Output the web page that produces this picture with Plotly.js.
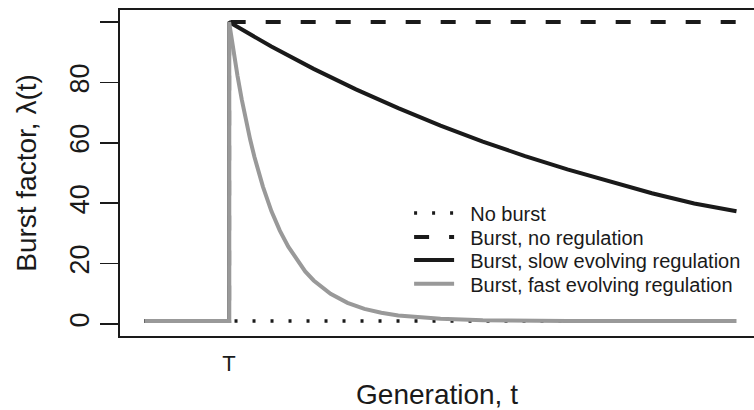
<!DOCTYPE html>
<html>
<head>
<meta charset="utf-8">
<script src="https://cdn.plot.ly/plotly-3.0.1.min.js"></script>
<style>
html, body { margin: 0; padding: 0; background: #fff; overflow: hidden; }
#chart { width: 754px; height: 410px; }
</style>
</head>
<body>
<div id="chart"></div>
<script>
// Generation values and burst factors
var burstGen = 100; // T
var genNoBurst = [0, 700];
var noBurst = [1, 1];

var genNoReg = [0, 100, 100, 700];
var noRegulation = [1, 1, 100, 100];

var genSlow = [0, 100, 100, 150, 200, 250, 300, 350, 400, 450, 500, 550, 600, 650, 700];
var slowRegulation = [1, 1, 100, 91.9, 84.5, 77.7, 71.5, 65.7, 60.4, 55.6, 51.2, 47.1, 43.3, 39.9, 37.3];

var genFast = [0, 100, 100, 105, 110, 115, 120, 125, 130, 140, 150, 160, 170, 180, 190, 200, 220, 240, 260, 280, 300, 350, 400, 500, 600, 700];
var fastRegulation = [1, 1, 100, 90.6, 82.1, 74.3, 67.4, 61.0, 55.3, 45.5, 37.4, 30.9, 25.6, 21.2, 17.4, 14.4, 10.0, 7.0, 5.0, 3.7, 2.8, 1.7, 1.2, 1.0, 1.0, 1.0];

var seriesNames = ['No burst', 'Burst, no regulation', 'Burst, slow evolving regulation', 'Burst, fast evolving regulation'];

var yTickVals = [0, 20, 40, 60, 80, 100];
var yTickText = ['0', '20', '40', '60', '80', ''];
var xTickVals = [burstGen];
var xTickText = ['T'];

var ink = '#1a1a1a';
var grey = '#999999';
var fontFam = '"Liberation Sans", Arial, Helvetica, sans-serif';
var gap = '\u00a0\u00a0';

var traces = [
  {x: genNoBurst, y: noBurst, name: gap + seriesNames[0], mode: 'lines', legend: 'legend',
   line: {color: ink, width: 3.5, dash: '3px,15px'}},
  {x: genNoReg, y: noRegulation, name: gap + seriesNames[1], mode: 'lines', legend: 'legend2',
   line: {color: ink, width: 4, dash: '15px,20px'}},
  {x: genSlow, y: slowRegulation, name: gap + seriesNames[2], mode: 'lines', legend: 'legend3',
   line: {color: ink, width: 4}},
  {x: genFast, y: fastRegulation, name: gap + seriesNames[3], mode: 'lines', legend: 'legend4',
   line: {color: grey, width: 4}}
];

function legendAt(yPaper) {
  return {
    x: 0.456, y: yPaper, xanchor: 'left', yanchor: 'middle',
    bgcolor: 'rgba(0,0,0,0)', borderwidth: 0, itemwidth: 40,
    font: {family: fontFam, size: 20, color: ink}
  };
}

var layout = {
  width: 754, height: 410,
  margin: {l: 120, r: 0, t: 10, b: 74},
  paper_bgcolor: '#fff', plot_bgcolor: '#fff',
  font: {family: fontFam, color: ink, size: 26},
  showlegend: true,
  legend: legendAt(0.377),
  legend2: legendAt(0.304),
  legend3: legendAt(0.233),
  legend4: legendAt(0.160),
  xaxis: {
    range: [-29, 720.7],
    showgrid: false, zeroline: false,
    showline: true, mirror: true, linecolor: ink, linewidth: 2,
    tickmode: 'array', tickvals: xTickVals, ticktext: xTickText,
    ticks: '', tickfont: {size: 22}, ticklabelstandoff: 7,
    title: {text: 'Generation, t', font: {size: 28}, standoff: 10}
  },
  yaxis: {
    range: [-4, 104],
    showgrid: false, zeroline: false,
    showline: true, mirror: false, linecolor: ink, linewidth: 2,
    tickmode: 'array', tickvals: yTickVals, ticktext: yTickText,
    ticks: 'outside', ticklen: 18, tickwidth: 1.8, tickcolor: ink,
    tickangle: -90, tickfont: {size: 27},
    title: {text: 'Burst factor, \u03bb(t)', font: {size: 28}, standoff: 20}
  }
};

Plotly.newPlot('chart', traces, layout, {displayModeBar: false, staticPlot: true});
</script>
</body>
</html>
